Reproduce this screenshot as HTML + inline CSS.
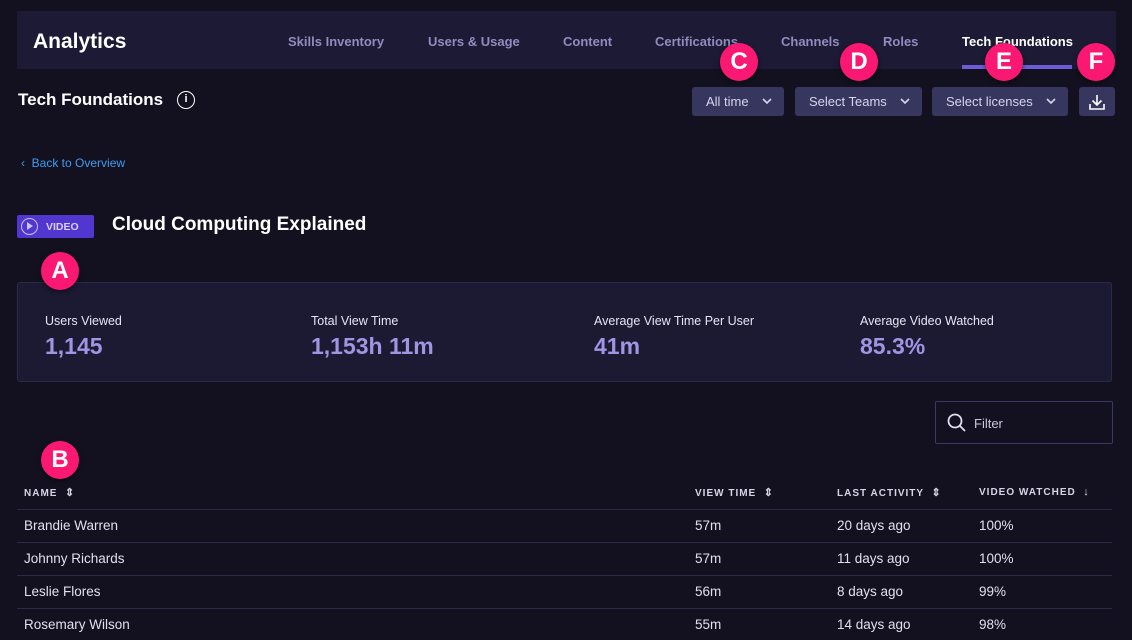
<!DOCTYPE html><html><head><style>
*{margin:0;padding:0;box-sizing:border-box}
body{width:1132px;height:640px;background:#13111f;font-family:"Liberation Sans",sans-serif;color:#fff;position:relative;overflow:hidden}
.a{position:absolute;white-space:nowrap}
.nav{left:17px;top:11px;width:1099px;height:58px;background:#1d1a35}
.tab{top:34px;font-size:13px;font-weight:bold;color:#8f8cbf}
.btn{top:87px;height:29px;background:#37365f;border-radius:3px;font-size:13px;color:#d6d5ee;padding:7px 0 0 14px}
.btn svg.c{position:absolute;right:12px;top:11px}
.mk{width:38px;height:38px;border-radius:50%;background:#fb1873;color:#fff;font-size:24px;font-weight:bold;text-align:center;line-height:38px;box-shadow:0 2px 5px rgba(0,0,0,.5)}
.lbl{top:314px;font-size:12.5px;color:#e6e5f2}
.val{top:333px;font-size:23px;font-weight:bold;color:#9f95e3}
.th{top:486px;font-size:10px;font-weight:bold;letter-spacing:1px;color:#d6d5e6}
.th small{font-size:11px}
.td{font-size:13.5px;color:#e1e0ee}
.ln{left:17px;width:1095px;height:1px;background:#2b2948}
</style></head><body>
<div class="a nav"></div>
<div class="a" style="left:33px;top:30px;font-size:21px;font-weight:bold">Analytics</div>
<div class="a tab" style="left:288px">Skills Inventory</div>
<div class="a tab" style="left:428px">Users &amp; Usage</div>
<div class="a tab" style="left:563px">Content</div>
<div class="a tab" style="left:655px">Certifications</div>
<div class="a tab" style="left:781px">Channels</div>
<div class="a tab" style="left:883px">Roles</div>
<div class="a tab" style="left:962px;color:#fff">Tech Foundations</div>
<div class="a" style="left:962px;top:65px;width:110px;height:4px;background:#6b5cd8"></div>
<div class="a" style="left:18px;top:90px;font-size:17px;font-weight:bold">Tech Foundations</div>
<div class="a" style="left:177px;top:91px;width:18px;height:18px;border:1.6px solid #fff;border-radius:50%;font-size:11px;font-weight:bold;text-align:center;line-height:15px">i</div>
<div class="a btn" style="left:692px;width:92px">All time<svg class="c" width="10" height="7"><path d="M1 1l4 4 4-4" stroke="#d6d5ee" stroke-width="1.6" fill="none"/></svg></div>
<div class="a btn" style="left:795px;width:127px">Select Teams<svg class="c" width="10" height="7"><path d="M1 1l4 4 4-4" stroke="#d6d5ee" stroke-width="1.6" fill="none"/></svg></div>
<div class="a btn" style="left:932px;width:136px">Select licenses<svg class="c" width="10" height="7"><path d="M1 1l4 4 4-4" stroke="#d6d5ee" stroke-width="1.6" fill="none"/></svg></div>
<div class="a btn" style="left:1079px;width:36px;padding:0"><svg width="36" height="29"><path d="M18 8v10M13.5 13.5L18 18l4.5-4.5M11 17v5h14v-5" stroke="#fff" stroke-width="1.6" fill="none"/></svg></div>
<div class="a" style="left:21px;top:156px;font-size:12px;color:#3f9cf4">‹&nbsp;&nbsp;Back to Overview</div>
<div class="a" style="left:17px;top:215px;width:77px;height:23px;background:#5137d0;border-radius:2px;font-size:10.5px;font-weight:bold;color:#d8d2f7;padding:6px 0 0 29px">VIDEO</div>
<div class="a" style="left:21px;top:218px;width:17px;height:17px;border:1.5px solid #c9c3ef;border-radius:50%"></div>
<div class="a" style="left:27px;top:222px;width:0;height:0;border-left:6px solid #c9c3ef;border-top:4.5px solid transparent;border-bottom:4.5px solid transparent"></div>
<div class="a" style="left:112px;top:214px;font-size:19px;font-weight:bold">Cloud Computing Explained</div>
<div class="a" style="left:17px;top:282px;width:1095px;height:100px;background:#1c1a33;border:1px solid #2c2a48;border-radius:3px"></div>
<div class="a lbl" style="left:45px">Users Viewed</div><div class="a val" style="left:45px">1,145</div>
<div class="a lbl" style="left:311px">Total View Time</div><div class="a val" style="left:311px">1,153h 11m</div>
<div class="a lbl" style="left:594px">Average View Time Per User</div><div class="a val" style="left:594px">41m</div>
<div class="a lbl" style="left:860px">Average Video Watched</div><div class="a val" style="left:860px">85.3%</div>
<div class="a" style="left:935px;top:401px;width:178px;height:43px;border:1px solid #3b3a66;border-radius:2px"></div>
<svg class="a" style="left:946px;top:412px" width="22" height="22"><circle cx="9" cy="9" r="6.5" stroke="#e0dff0" stroke-width="1.8" fill="none"/><path d="M14 14l5 5" stroke="#e0dff0" stroke-width="1.8"/></svg>
<div class="a" style="left:974px;top:416px;font-size:13px;color:#c9c8dc">Filter</div>
<div class="a th" style="left:24px">NAME &nbsp;<small>⇕</small></div>
<div class="a th" style="left:695px">VIEW TIME &nbsp;<small>⇕</small></div>
<div class="a th" style="left:837px">LAST ACTIVITY &nbsp;<small>⇕</small></div>
<div class="a th" style="left:979px">VIDEO WATCHED &nbsp;<small>↓</small></div>
<div class="a ln" style="top:509px"></div><div class="a ln" style="top:542px"></div><div class="a ln" style="top:575px"></div><div class="a ln" style="top:608px"></div>
<div class="a td" style="left:24px;top:518px">Brandie Warren</div><div class="a td" style="left:695px;top:518px">57m</div><div class="a td" style="left:837px;top:518px">20 days ago</div><div class="a td" style="left:979px;top:518px">100%</div>
<div class="a td" style="left:24px;top:551px">Johnny Richards</div><div class="a td" style="left:695px;top:551px">57m</div><div class="a td" style="left:837px;top:551px">11 days ago</div><div class="a td" style="left:979px;top:551px">100%</div>
<div class="a td" style="left:24px;top:584px">Leslie Flores</div><div class="a td" style="left:695px;top:584px">56m</div><div class="a td" style="left:837px;top:584px">8 days ago</div><div class="a td" style="left:979px;top:584px">99%</div>
<div class="a td" style="left:24px;top:617px">Rosemary Wilson</div><div class="a td" style="left:695px;top:617px">55m</div><div class="a td" style="left:837px;top:617px">14 days ago</div><div class="a td" style="left:979px;top:617px">98%</div>
<div class="a mk" style="left:41px;top:252px">A</div>
<div class="a mk" style="left:41px;top:441px">B</div>
<div class="a mk" style="left:720px;top:43px">C</div>
<div class="a mk" style="left:840px;top:43px">D</div>
<div class="a mk" style="left:985px;top:43px">E</div>
<div class="a mk" style="left:1077px;top:43px">F</div>
</body></html>
